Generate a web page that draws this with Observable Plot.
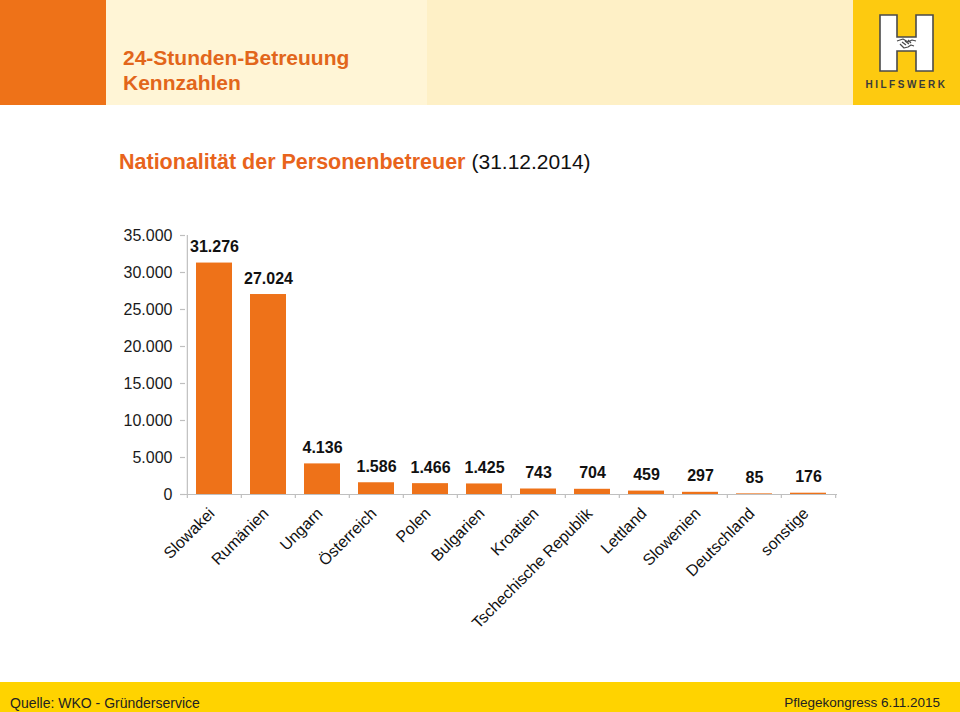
<!DOCTYPE html>
<html>
<head>
<meta charset="utf-8">
<script src="https://cdn.jsdelivr.net/npm/d3@7"></script>
<script src="https://cdn.jsdelivr.net/npm/@observablehq/plot@0.6"></script>
<style>
  html, body { margin: 0; padding: 0; background: #fff; }
  #page { position: relative; width: 960px; height: 712px; overflow: hidden; background: #fff;
          font-family: "Liberation Sans", Arial, Helvetica, sans-serif; }
  .abs { position: absolute; }
  #title { left: 123px; top: 45px; color: #E2661B; font-weight: bold; font-size: 21px; line-height: 25px; }
  #subtitle { left: 119px; top: 148px; font-size: 21.5px; line-height: 28px; white-space: nowrap; }
  #subtitle b { color: #E8641C; }
  #subtitle span { color: #111; font-size: 21px; }
  #footer { left: 0; top: 682px; width: 960px; height: 30px; background: #FFD300; }
  .foot { position: absolute; top: 13px; color: #222; white-space: nowrap; }
  #chart { left: 0; top: 200px; }
</style>
</head>
<body>
<div id="page">
  <div class="abs" style="left:0;top:0;width:106px;height:105px;background:#EE7218"></div>
  <div class="abs" style="left:106px;top:0;width:321px;height:105px;background:#FFF5D6"></div>
  <div class="abs" style="left:427px;top:0;width:426px;height:105px;background:#FEF0C6"></div>
  <svg class="abs" style="left:853px;top:0" width="107" height="105" viewBox="853 0 107 105">
    <rect x="853" y="0" width="107" height="105" fill="#FDCA10"/>
    <path d="M880,15 H897 V37 H916 V15 H933 V71 H916 V51 H897 V71 H880 Z" fill="#fff" stroke="#4a4a4a" stroke-width="1.6"/>
    <g fill="none" stroke="#4a4a4a" stroke-width="1.2" stroke-linejoin="round">
      <path d="M897,41 L903,39 L908,42 L912,40 L916,41"/>
      <path d="M900,44 L904,48 L908,47 L911,45 L914,46"/>
      <path d="M902,42 L906,45 M905,41 L909,44 M908,40 L911,43"/>
    </g>
    <text x="906.5" y="88" text-anchor="middle" font-family="Liberation Sans, Arial, sans-serif" font-weight="bold" font-size="10" letter-spacing="2.5" fill="#3a3a3a">HILFSWERK</text>
  </svg>
  <div id="title" class="abs">24-Stunden-Betreuung<br>Kennzahlen</div>
  <div id="subtitle" class="abs"><b>Nationalität der Personenbetreuer</b> <span>(31.12.2014)</span></div>
  <div id="chart" class="abs"></div>
  <div id="footer" class="abs">
    <div class="foot" style="left:10px;font-size:14px">Quelle: WKO - Gründerservice</div>
    <div class="foot" style="right:20px;font-size:13.5px">Pflegekongress 6.11.2015</div>
  </div>
</div>
<script>
// ---- data ----
const categories = ["Slowakei", "Rumänien", "Ungarn", "Österreich", "Polen", "Bulgarien", "Kroatien",
  "Tschechische Republik", "Lettland", "Slowenien", "Deutschland", "sonstige"];
const values = [31276, 27024, 4136, 1586, 1466, 1425, 743, 704, 459, 297, 85, 176];
const yTicks = [0, 5000, 10000, 15000, 20000, 25000, 30000, 35000];

const data = categories.map((c, i) => ({country: c, value: values[i]}));
const de = d3.formatLocale({decimal: ",", thousands: ".", grouping: [3], currency: ["", " €"]});
const fmt = de.format(",");

const W = 960, H = 440;
const mL = 185, mR = 123, mT = 35, mB = 146;
const bw = (W - mL - mR) / categories.length;
const axisColor = "#BFBFBF";
const font = "Liberation Sans, Arial, Helvetica, sans-serif";
const tickExt = 4 * yTicks[yTicks.length - 1] / (H - mT - mB);

const chart = Plot.plot({
  width: W,
  height: H,
  marginLeft: mL,
  marginRight: mR,
  marginTop: mT,
  marginBottom: mB,
  style: {fontFamily: font, background: "transparent", overflow: "visible"},
  x: {domain: categories, padding: 0, axis: null},
  y: {domain: [0, yTicks[yTicks.length - 1]], axis: null},
  marks: [
    Plot.barY(data, {x: "country", y: "value", fill: "#EE7219", insetLeft: 9, insetRight: 9}),
    Plot.ruleY([0], {stroke: axisColor, strokeWidth: 1.2}),
    Plot.ruleX([categories[0]], {y1: 0, y2: yTicks[yTicks.length - 1], dx: -bw / 2, stroke: axisColor, strokeWidth: 1.2}),
    Plot.ruleX(categories, {x: d => d, y1: 0, y2: -tickExt, dx: -bw / 2, stroke: axisColor, strokeWidth: 1.2}),
    Plot.ruleX([categories[categories.length - 1]], {y1: 0, y2: -tickExt, dx: bw / 2, stroke: axisColor, strokeWidth: 1.2}),
    Plot.axisY({ticks: yTicks, tickFormat: fmt, tickSize: 5, tickPadding: 8, fontSize: 16,
                stroke: axisColor, strokeWidth: 1.2, fill: "#1a1a1a", label: null}),
    Plot.text(data, {x: "country", y: "value", text: d => fmt(d.value), dy: -16,
                     fontSize: 16, fontWeight: "bold", fill: "#111"}),
    Plot.text(categories, {x: d => d, frameAnchor: "bottom", text: d => d, rotate: -45,
                           textAnchor: "end", dx: 1, dy: 20, fontSize: 16, fill: "#111"})
  ]
});
document.getElementById("chart").appendChild(chart);
</script>
</body>
</html>
